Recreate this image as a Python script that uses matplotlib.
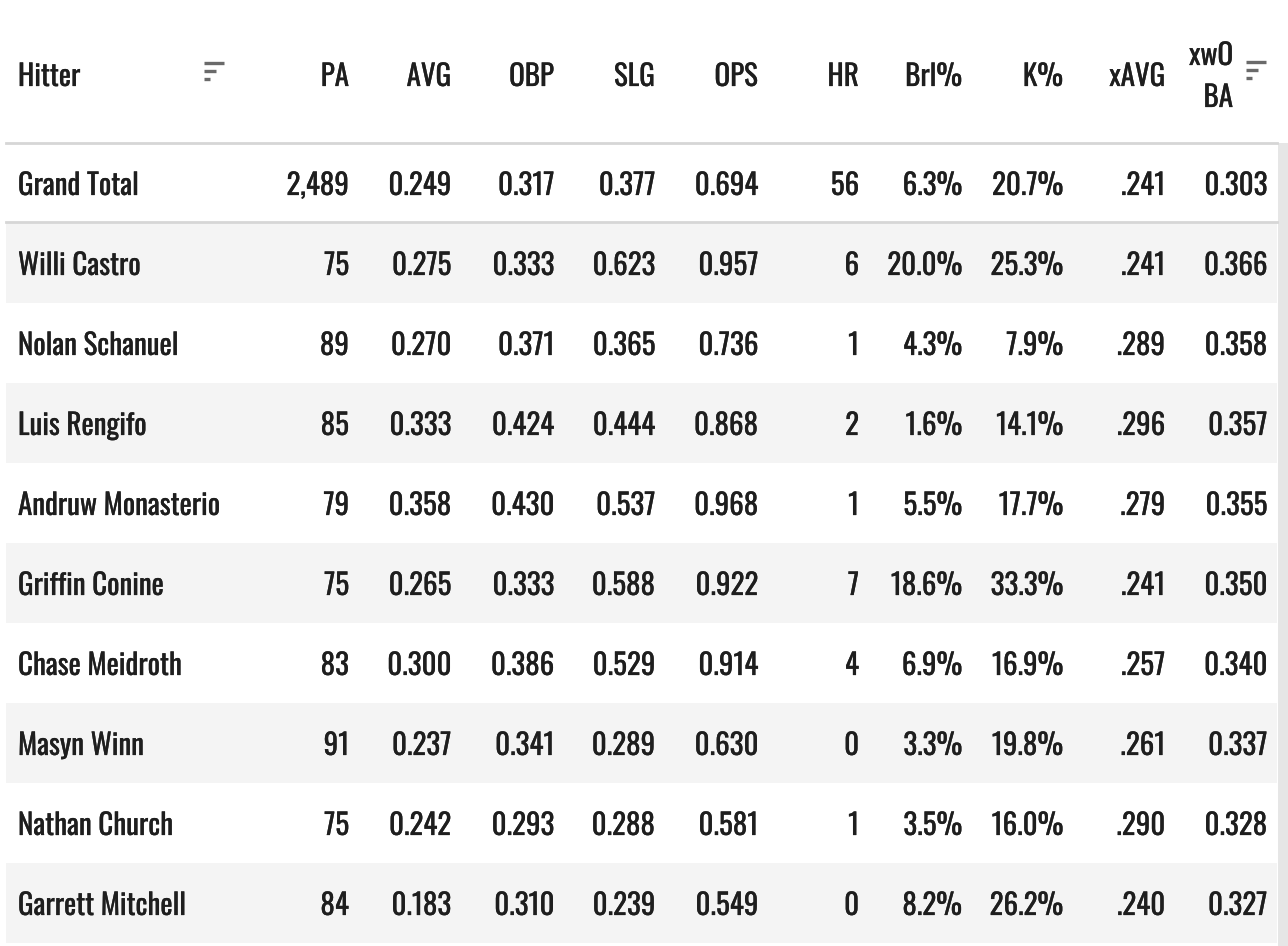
import matplotlib
matplotlib.use("Agg")
import matplotlib.pyplot as plt
import matplotlib.patheffects as pe

# table data
columns = ["PA", "AVG", "OBP", "SLG", "OPS", "HR", "Brl%", "K%", "xAVG", "xwOBA"]
hitters = ["Grand Total", "Willi Castro", "Nolan Schanuel", "Luis Rengifo",
           "Andruw Monasterio", "Griffin Conine", "Chase Meidroth", "Masyn Winn",
           "Nathan Church", "Garrett Mitchell"]
pa = ["2,489", "75", "89", "85", "79", "75", "83", "91", "75", "84"]
avg = ["0.249", "0.275", "0.270", "0.333", "0.358", "0.265", "0.300", "0.237", "0.242", "0.183"]
obp = ["0.317", "0.333", "0.371", "0.424", "0.430", "0.333", "0.386", "0.341", "0.293", "0.310"]
slg = ["0.377", "0.623", "0.365", "0.444", "0.537", "0.588", "0.529", "0.289", "0.288", "0.239"]
ops = ["0.694", "0.957", "0.736", "0.868", "0.968", "0.922", "0.914", "0.630", "0.581", "0.549"]
hr = ["56", "6", "1", "2", "1", "7", "4", "0", "1", "0"]
brl = ["6.3%", "20.0%", "4.3%", "1.6%", "5.5%", "18.6%", "6.9%", "3.3%", "3.5%", "8.2%"]
kpct = ["20.7%", "25.3%", "7.9%", "14.1%", "17.7%", "33.3%", "16.9%", "19.8%", "16.0%", "26.2%"]
xavg = [".241", ".241", ".289", ".296", ".279", ".241", ".257", ".261", ".290", ".240"]
xwoba = ["0.303", "0.366", "0.358", "0.357", "0.355", "0.350", "0.340", "0.337", "0.328", "0.327"]

values = [pa, avg, obp, slg, ops, hr, brl, kpct, xavg, xwoba]

plt.rcParams["font.family"] = ["Oswald", "Roboto Condensed", "DejaVu Sans"]

W, H = 1288, 946
fig = plt.figure(figsize=(W / 100, H / 100), dpi=100)
ax = fig.add_axes([0, 0, 1, 1])
ax.set_xlim(0, W)
ax.set_ylim(H, 0)
ax.axis("off")

txt = "#1e1e1e"
# the only installed Oswald face is light, so thicken the glyphs a little
heavy = [pe.withStroke(linewidth=0.18, foreground=txt)]
col_right = [349, 451, 554, 655, 758, 859, 962, 1063, 1165, 1267]
fs = 20.9
row_h = 80
first_base = 195


def cell(x, y, s, ha="right"):
    ax.text(x, y, s, ha=ha, va="baseline", fontsize=fs, color=txt, path_effects=heavy)


# striped rows
for i in range(1, len(hitters)):
    if i % 2 == 1:
        top = 223 + (i - 1) * row_h
        ax.add_patch(plt.Rectangle((6, top), 1271, row_h, color="#f4f4f4", lw=0, zorder=0))

# divider lines
ax.plot([6, 1277], [143, 143], color="#d6d6d6", lw=2, zorder=1)
ax.plot([6, 1277], [222, 222], color="#d6d6d6", lw=2, zorder=1)

# scrollbar track
ax.add_patch(plt.Rectangle((1278, 143), 10, H - 143, color="#e6e6e6", lw=0, zorder=0))

# header
cell(18, 86, "Hitter", ha="left")
for j, c in enumerate(columns[:-1]):
    cell(col_right[j], 86, c)
cell(1233, 65, "xwO")
cell(1233, 107, "BA")


def sort_icon(x, y):
    for k, ln in enumerate([20, 12, 6]):
        ax.plot([x, x + ln], [y + k * 8, y + k * 8], color="#6a6a6a", lw=2.4,
                solid_capstyle="butt")


sort_icon(204, 63)
sort_icon(1246, 62)

# body
for i, name in enumerate(hitters):
    base = first_base + i * row_h
    cell(18, base, name, ha="left")
    for j, col in enumerate(values):
        cell(col_right[j], base, col[i])

fig.savefig("out.png", dpi=100)
